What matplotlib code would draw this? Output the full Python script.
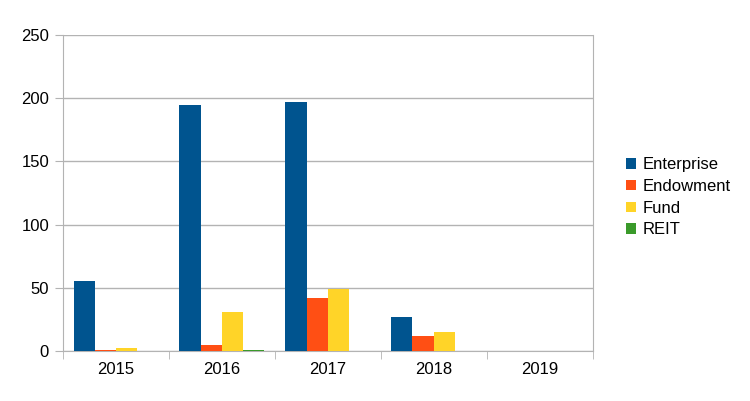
import matplotlib.pyplot as plt
import numpy as np

plt.rcParams['font.family'] = ['Liberation Sans', 'DejaVu Sans']

years = ['2015', '2016', '2017', '2018', '2019']
enterprise = [55, 195, 197, 27, 0]
endowment = [1, 5, 42, 12, 0]
fund = [2, 31, 49, 15, 0]
reit = [0, 1, 0, 0, 0]

series = ['Enterprise', 'Endowment', 'Fund', 'REIT']
colors = ['#00548f', '#ff4f14', '#ffd428', '#3a9a2a']

fig = plt.figure(figsize=(7.5, 4.01), dpi=100)
ax = fig.add_axes([0.084, 0.1247, 0.706, 0.788])

x = np.arange(len(years))
w = 0.2
for i, (name, vals) in enumerate(zip(series, [enterprise, endowment, fund, reit])):
    ax.bar(x + (i - 1.5) * w, vals, w, color=colors[i], label=name, zorder=3)

ax.set_xlim(-0.5, len(years) - 0.5)
ax.set_ylim(0, 250)
ax.set_yticks(range(0, 251, 50))
ax.set_xticks(x)
ax.set_xticklabels(years)
ax.set_xticks(np.arange(-0.5, len(years)), minor=True)
ax.tick_params(axis='x', which='major', length=0, pad=8, labelsize=12)
ax.tick_params(axis='x', which='minor', length=6, color='#b3b3b3')
ax.tick_params(axis='y', length=6, color='#b3b3b3', labelsize=12, pad=4)
ax.grid(axis='y', color='#b3b3b3', linewidth=1, zorder=0)
for s in ax.spines.values():
    s.set_color('#b3b3b3')
ax.spines['top'].set_visible(False)

fig.legend(loc='upper left', bbox_to_anchor=(0.815, 0.645), frameon=False,
           fontsize=12, handlelength=0.6, handleheight=0.6, handletextpad=0.4,
           labelspacing=0.4)

fig.savefig('out.png')
